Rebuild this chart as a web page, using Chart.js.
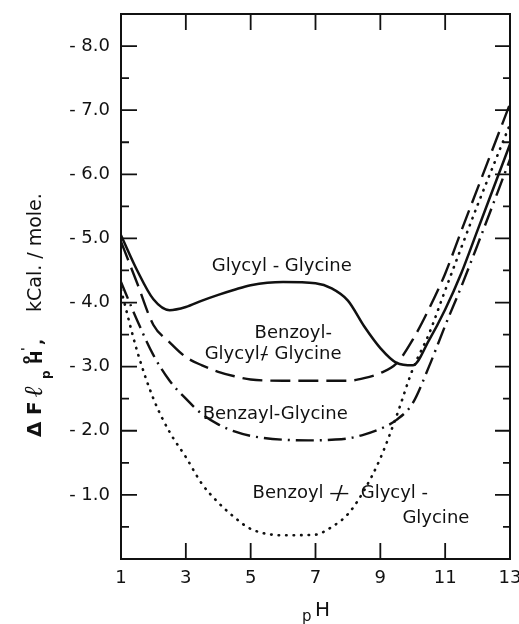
<!DOCTYPE html>
<html>
<head>
<meta charset="utf-8">
<script src="https://cdn.jsdelivr.net/npm/chart.js@4.4.1/dist/chart.umd.min.js"></script>
<style>
  html, body { margin: 0; padding: 0; background: #fff; }
  #wrap { width: 519px; height: 624px; }
</style>
</head>
<body>
<div id="wrap"><canvas id="chart" width="519" height="624"></canvas></div>
<script>
// pH grid shared by all four curves
const phValues = [1, 1.5, 2, 2.5, 3, 3.5, 4, 4.5, 5, 6, 7, 7.5, 8, 8.5, 9, 9.5, 10, 10.5, 11, 11.5, 12, 13];

// ΔF (kCal./mole)
const glycylGlycine        = [-5.05, -4.50, -4.05, -3.88, -3.93, -4.03, -4.12, -4.20, -4.27, -4.32, -4.30, -4.22, -4.03, -3.63, -3.29, -3.06, -3.02, -3.41, -3.89, -4.46, -5.13, -6.47];
const benzoylGlycylGlycine = [-4.95, -4.30, -3.65, -3.38, -3.15, -3.02, -2.92, -2.85, -2.80, -2.78, -2.78, -2.78, -2.78, -2.82, -2.90, -3.05, -3.42, -3.90, -4.45, -5.12, -5.78, -7.10];
const benzoylGlycine       = [-4.32, -3.72, -3.18, -2.78, -2.50, -2.26, -2.10, -1.99, -1.92, -1.86, -1.85, -1.86, -1.88, -1.94, -2.03, -2.17, -2.43, -3.00, -3.64, -4.25, -4.90, -6.23];
const benzoylGlycylGlycineB = [-4.20, -3.24, -2.50, -1.98, -1.59, -1.17, -0.88, -0.65, -0.47, -0.37, -0.38, -0.50, -0.70, -1.07, -1.57, -2.23, -2.96, -3.51, -4.19, -4.86, -5.52, -6.78];

// axis ticks
const xTickValues = [1, 3, 5, 7, 9, 11, 13];
const xTickLabels = ['1', '3', '5', '7', '9', '11', '13'];
const yTickValues = [-1, -2, -3, -4, -5, -6, -7, -8];
const yTickLabels = ['- 1.0', '- 2.0', '- 3.0', '- 4.0', '- 5.0', '- 6.0', '- 7.0', '- 8.0'];
const yMinorValues = [-0.5, -1.5, -2.5, -3.5, -4.5, -5.5, -6.5, -7.5];

const FONT = '"DejaVu Sans", sans-serif';
const INK = '#111';

const toPoints = (ys) => phValues.map((x, i) => ({ x: x, y: ys[i] }));

// frame, inward ticks, curve labels and axis titles
const figurePlugin = {
    id: 'figure',
    afterDraw(chart) {
        const ctx = chart.ctx;
        const a = chart.chartArea;
        const xs = chart.scales.x;
        const ys = chart.scales.y;
        ctx.save();
        ctx.strokeStyle = INK;
        ctx.fillStyle = INK;
        ctx.lineWidth = 2;
        ctx.strokeRect(a.left, a.top, a.right - a.left, a.bottom - a.top);

        // y ticks, both sides
        ctx.lineWidth = 1.8;
        ctx.beginPath();
        yTickValues.forEach(v => {
            const p = ys.getPixelForValue(v);
            ctx.moveTo(a.left, p); ctx.lineTo(a.left + 16, p);
            ctx.moveTo(a.right, p); ctx.lineTo(a.right - 15, p);
        });
        yMinorValues.forEach(v => {
            const p = ys.getPixelForValue(v);
            ctx.moveTo(a.left, p); ctx.lineTo(a.left + 8, p);
            ctx.moveTo(a.right, p); ctx.lineTo(a.right - 7, p);
        });
        // x ticks, top and bottom
        xTickValues.slice(1, -1).forEach(v => {
            const p = xs.getPixelForValue(v);
            ctx.moveTo(p, a.bottom); ctx.lineTo(p, a.bottom - 16);
            ctx.moveTo(p, a.top); ctx.lineTo(p, a.top + 16);
        });
        ctx.stroke();

        // curve labels
        ctx.font = '18px ' + FONT;
        ctx.textBaseline = 'middle';
        ctx.textAlign = 'left';
        const at = (ph, v) => [xs.getPixelForValue(ph), ys.getPixelForValue(v)];
        const run = (parts, ph, v) => {
            let [x, y] = at(ph, v);
            parts.forEach(p => {
                ctx.font = (p.size || 18) + 'px ' + FONT;
                if (p.over) {
                    const w = ctx.measureText(p.t).width;
                    ctx.textAlign = 'center';
                    ctx.fillText(p.t, x + w / 2, y);
                    ctx.fillText(p.over, x + w / 2, y);
                    ctx.textAlign = 'left';
                    x += w;
                } else {
                    ctx.fillText(p.t, x, y);
                    x += ctx.measureText(p.t).width;
                }
            });
        };
        run([{ t: 'Glycyl - Glycine' }], 3.8, -4.56);
        run([{ t: 'Benzoyl-' }], 5.12, -3.52);
        run([{ t: 'Glycyl' }, { t: '–', over: '/' }, { t: ' Glycine' }], 3.58, -3.19);
        run([{ t: 'Benzayl-Glycine' }], 3.52, -2.26);
        run([{ t: 'Benzoyl ' }, { t: '—', over: '/', size: 20 }, { t: '  Glycyl -' }], 5.06, -1.02);
        run([{ t: 'Glycine' }], 9.68, -0.64);

        // x title
        ctx.font = '15px ' + FONT;
        ctx.fillText('p', 302, 617);
        ctx.font = '20px ' + FONT;
        ctx.fillText('H', 315, 611);

        // y title, rotated
        ctx.translate(36, 437);
        ctx.rotate(-Math.PI / 2);
        ctx.textBaseline = 'middle';
        ctx.font = 'bold 20px ' + FONT;
        ctx.fillText('Δ', 0, 0);
        ctx.fillText('F', 22, 0);
        ctx.font = 'italic bold 26px "DejaVu Serif", serif';
        ctx.fillText('ℓ', 40, -1);
        ctx.font = 'bold 12px ' + FONT;
        ctx.fillText('p', 58, 11);
        ctx.fillText('o', 73, -9);
        ctx.fillText("'", 86, -9);
        ctx.font = 'bold 16px ' + FONT;
        ctx.fillText('H', 73, 2);
        ctx.fillText(',', 92, 3);
        ctx.font = '19px ' + FONT;
        ctx.fillText('kCal. / mole.', 125, 0);
        ctx.restore();
    }
};

const lineBase = {
    borderColor: INK,
    backgroundColor: INK,
    pointRadius: 0,
    fill: false,
    cubicInterpolationMode: 'monotone'
};

const chart = new Chart(document.getElementById('chart'), {
    type: 'line',
    data: {
        datasets: [
            Object.assign({ label: 'Glycyl-Glycine', data: toPoints(glycylGlycine), borderWidth: 2.5 }, lineBase),
            Object.assign({ label: 'Benzoyl-Glycyl-Glycine', data: toPoints(benzoylGlycylGlycine), borderWidth: 2.4, borderDash: [20, 8] }, lineBase),
            Object.assign({ label: 'Benzayl-Glycine', data: toPoints(benzoylGlycine), borderWidth: 2.4, borderDash: [18, 6, 2, 6] }, lineBase),
            Object.assign({ label: 'Benzoyl-Glycyl-Glycine (2)', data: toPoints(benzoylGlycylGlycineB), borderWidth: 2.6, borderDash: [0.5, 7], borderCapStyle: 'round' }, lineBase)
        ]
    },
    options: {
        responsive: false,
        animation: false,
        devicePixelRatio: 1,
        layout: { padding: { left: 0, right: 9, top: 14, bottom: 0 } },
        plugins: { legend: { display: false }, tooltip: { enabled: false } },
        scales: {
            x: {
                type: 'linear',
                min: 1,
                max: 13,
                afterBuildTicks: s => { s.ticks = xTickValues.map(v => ({ value: v })); },
                afterFit: s => { s.height = 65; s.paddingLeft = 0; s.paddingRight = 0; },
                grid: { display: false, drawTicks: false },
                border: { display: false },
                ticks: {
                    padding: 9,
                    color: INK,
                    font: { family: FONT, size: 18 },
                    maxRotation: 0,
                    autoSkip: false,
                    callback: (v, i) => xTickLabels[i]
                }
            },
            y: {
                type: 'linear',
                min: -8.5,
                max: 0,
                reverse: true,
                afterBuildTicks: s => { s.ticks = yTickValues.map(v => ({ value: v })); },
                afterFit: s => { s.width = 121; s.paddingTop = 0; s.paddingBottom = 0; },
                grid: { display: false, drawTicks: false },
                border: { display: false },
                ticks: {
                    padding: 11,
                    color: INK,
                    font: { family: FONT, size: 18 },
                    autoSkip: false,
                    callback: (v, i) => yTickLabels[i]
                }
            }
        }
    },
    plugins: [figurePlugin]
});
</script>
</body>
</html>
